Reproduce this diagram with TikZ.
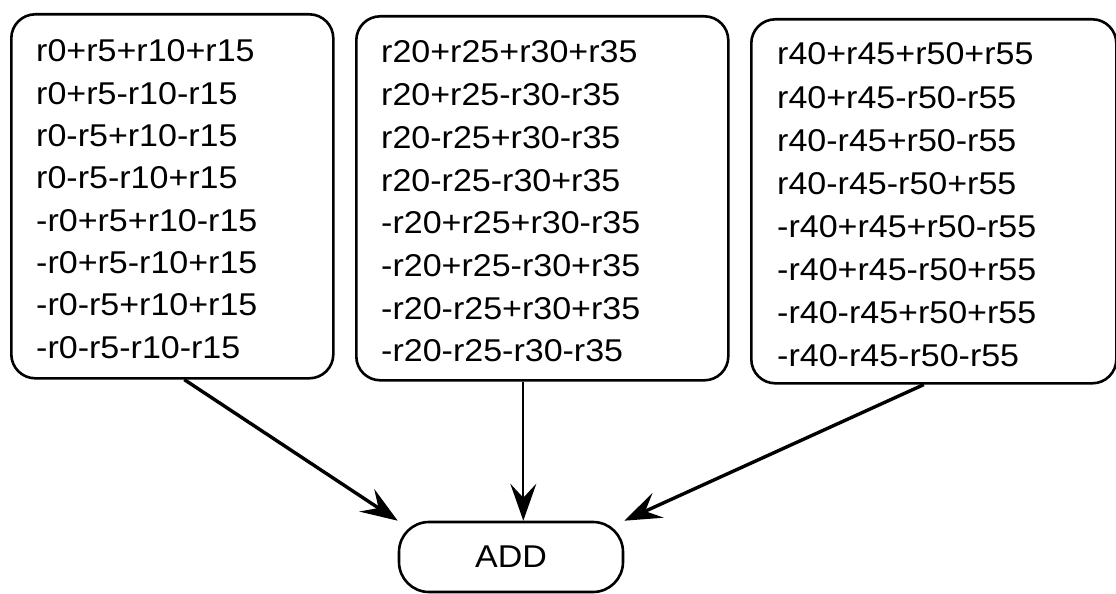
\documentclass[tikz,border=0pt]{standalone}
\usepackage{fontspec}
\setmainfont{Liberation Sans}[FakeStretch=1.08]
\usetikzlibrary{arrows.meta}

\begin{document}
\begin{tikzpicture}[x=1pt,y=-1pt,
  termbox/.style={draw, line width=2.6pt, rounded corners=24pt, anchor=north west,
                  inner sep=0pt},
  addbox/.style={draw, line width=2.6pt, rounded corners=30pt, inner sep=0pt,
                 minimum width=224pt, minimum height=70pt,
                 font=\fontsize{31.5}{36}\selectfont},
  termline/.style={anchor=base west, inner sep=0pt,
                   font=\fontsize{31.5}{36}\selectfont},
  flow/.style={line width=3.4pt,
               -{Stealth[length=37pt,width=27pt,inset=14pt]}},
  flowthin/.style={line width=2pt,
               -{Stealth[length=37pt,width=26pt,inset=14pt]}}]

\useasboundingbox (0,0) rectangle (1116,594);

% three groups of signed sums
\node[termbox, minimum width=322pt, minimum height=364pt] (left) at (10,13) {};
\node[termbox, minimum width=372pt, minimum height=364pt] (mid) at (355,15) {};
\node[termbox, minimum width=365pt, minimum height=364pt] (right) at (750,18) {};

\foreach \t [count=\i] in {r0+r5+r10+r15, r0+r5-r10-r15, r0-r5+r10-r15,
    r0-r5-r10+r15, -r0+r5+r10-r15, -r0+r5-r10+r15, -r0-r5+r10+r15, -r0-r5-r10-r15}
  \node[termline] (a\i) at (36,{62+42.3*(\i-1)}) {\t};

\foreach \t [count=\i] in {r20+r25+r30+r35, r20+r25-r30-r35, r20-r25+r30-r35,
    r20-r25-r30+r35, -r20+r25+r30-r35, -r20+r25-r30+r35, -r20-r25+r30+r35, -r20-r25-r30-r35}
  \node[termline] (b\i) at (381,{63+42.7*(\i-1)}) {\t};

\foreach \t [count=\i] in {r40+r45+r50+r55, r40+r45-r50-r55, r40-r45+r50-r55,
    r40-r45-r50+r55, -r40+r45+r50-r55, -r40+r45-r50+r55, -r40-r45+r50+r55, -r40-r45-r50-r55}
  \node[termline] (c\i) at (777,{65+43.1*(\i-1)}) {\t};

% adder
\node[addbox] (add) at (511,557) {ADD};

% connectors
\coordinate (ls) at ([xshift=12pt]left.south);
\coordinate (ms) at ([xshift=-19pt]mid.south);
\coordinate (rs) at ([xshift=-10pt]right.south);

\draw[flow] (ls) -- (add.north west);
\draw[flowthin] (ms) -- (ms |- add.north);
\draw[flow] (rs) -- (add.north east);

\end{tikzpicture}
\end{document}
